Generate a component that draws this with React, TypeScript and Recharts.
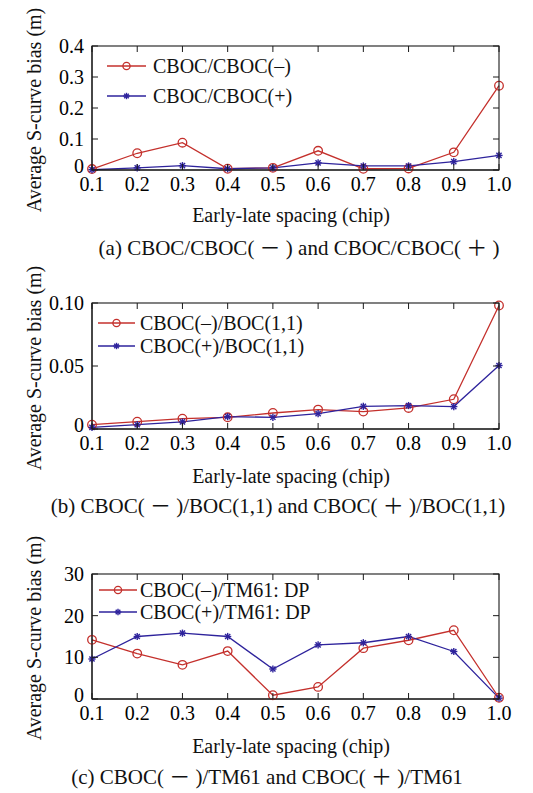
import React from 'react';
import { LineChart, Line, XAxis, YAxis, Legend } from 'recharts';

// Early-late correlator spacing (chip)
const spacing = [0.1, 0.2, 0.3, 0.4, 0.5, 0.6, 0.7, 0.8, 0.9, 1.0];

// (a) CBOC/CBOC(-) and CBOC/CBOC(+)
const cbocMinusA = [0.003, 0.054, 0.088, 0.004, 0.007, 0.062, 0.004, 0.005, 0.057, 0.272];
const cbocPlusA = [0.001, 0.007, 0.014, 0.004, 0.007, 0.023, 0.013, 0.013, 0.027, 0.047];

// (b) CBOC(-)/BOC(1,1) and CBOC(+)/BOC(1,1)
const cbocMinusB = [0.0034, 0.0058, 0.0082, 0.0093, 0.0127, 0.0154, 0.0138, 0.0167, 0.0236, 0.098];
const cbocPlusB = [0.0013, 0.0034, 0.0056, 0.0098, 0.0093, 0.0122, 0.018, 0.0186, 0.0178, 0.0504];

// (c) CBOC(-)/TM61 and CBOC(+)/TM61 (DP)
const cbocMinusC = [14.2, 10.9, 8.2, 11.5, 0.9, 2.9, 12.2, 14.1, 16.5, 0.3];
const cbocPlusC = [9.6, 15.0, 15.8, 15.0, 7.2, 13.0, 13.5, 15.0, 11.4, 0.2];

const ticksA = [0, 0.1, 0.2, 0.3, 0.4];
const ticksB = [0, 0.05, 0.1];
const ticksC = [0, 10, 20, 30];

const legendA = ['CBOC/CBOC(–)', 'CBOC/CBOC(+)'];
const legendB = ['CBOC(–)/BOC(1,1)', 'CBOC(+)/BOC(1,1)'];
const legendC = ['CBOC(–)/TM61: DP', 'CBOC(+)/TM61: DP'];

const captionA = '(a) CBOC/CBOC( － ) and CBOC/CBOC( ＋ )';
const captionB = '(b) CBOC( － )/BOC(1,1) and CBOC( ＋ )/BOC(1,1)';
const captionC = '(c) CBOC( － )/TM61 and CBOC( ＋ )/TM61';

const yTitle = 'Average S-curve bias (m)';
const xTitle = 'Early-late spacing (chip)';

const RED = '#c4302c';
const BLUE = '#2e239c';
const SERIF = "'Liberation Serif', 'Times New Roman', serif";
const CAPTION_FONT = "'Liberation Serif', 'Noto Sans CJK SC', serif";

const WIDTH = 533;
const Y_AXIS_WIDTH = 92;
const X_AXIS_HEIGHT = 30;
const MARGIN_RIGHT = 34;
const X_TICK_GAP = 7;
const TICK_LEN = 6;
const X_DOMAIN: [number, number] = [0.1, 1];

function CircleMark({ cx, cy, r = 4.3 }: any) {
  if (cx == null || cy == null) return null;
  return <circle cx={cx} cy={cy} r={r} fill="none" stroke={RED} strokeWidth={1.3} />;
}

function StarMark({ cx, cy, s = 3.6 }: any) {
  if (cx == null || cy == null) return null;
  const d = s * 0.72;
  return (
    <g stroke={BLUE} strokeWidth={1.4}>
      <line x1={cx - s} y1={cy} x2={cx + s} y2={cy} />
      <line x1={cx} y1={cy - s} x2={cx} y2={cy + s} />
      <line x1={cx - d} y1={cy - d} x2={cx + d} y2={cy + d} />
      <line x1={cx - d} y1={cy + d} x2={cx + d} y2={cy - d} />
    </g>
  );
}

function XTick({ x, y, payload }: any) {
  return (
    <text x={x} y={y} dy="0.71em" textAnchor="middle" fontSize={20} fontFamily={SERIF} fill="#000">
      {Number(payload.value).toFixed(1)}
    </text>
  );
}

// The zero label sits a little above its tick, clear of the x labels
function YTick({ x, y, payload, formatter }: any) {
  const shift = payload.value === 0 ? -4 : 0;
  return (
    <text x={x} y={y + shift} dy="0.35em" textAnchor="end" fontSize={20} fontFamily={SERIF} fill="#000">
      {formatter(payload.value)}
    </text>
  );
}

type Box = { left: number; right: number; top: number; bottom: number };

// Boxed plot frame with inward tick marks on all four sides
function PlotFrame({
  box,
  height,
  yDomain,
  yTicks,
}: {
  box: Box;
  height: number;
  yDomain: [number, number];
  yTicks: number[];
}) {
  const w = box.right - box.left;
  const h = box.bottom - box.top;
  const px = (v: number) => box.left + ((v - X_DOMAIN[0]) / (X_DOMAIN[1] - X_DOMAIN[0])) * w;
  const py = (v: number) => box.bottom - ((v - yDomain[0]) / (yDomain[1] - yDomain[0])) * h;
  return (
    <svg
      width={WIDTH}
      height={height}
      style={{ position: 'absolute', left: 0, top: 0, pointerEvents: 'none' }}
    >
      <rect x={box.left} y={box.top} width={w} height={h} fill="none" stroke="#1a1a1a" strokeWidth={1.1} />
      {spacing.map((v) => (
        <g key={`x${v}`} stroke="#1a1a1a" strokeWidth={1}>
          <line x1={px(v)} y1={box.bottom} x2={px(v)} y2={box.bottom - TICK_LEN} />
          <line x1={px(v)} y1={box.top} x2={px(v)} y2={box.top + TICK_LEN} />
        </g>
      ))}
      {yTicks.map((v) => (
        <g key={`y${v}`} stroke="#1a1a1a" strokeWidth={1}>
          <line x1={box.left} y1={py(v)} x2={box.left + TICK_LEN} y2={py(v)} />
          <line x1={box.right} y1={py(v)} x2={box.right - TICK_LEN} y2={py(v)} />
        </g>
      ))}
    </svg>
  );
}

type LegendLayout = { x0: number; x1: number; tx: number; y0: number; gap: number };

function LegendRows({ labels, lay }: { labels: string[]; lay: LegendLayout }) {
  const mid = (lay.x0 + lay.x1) / 2;
  return (
    <svg width={WIDTH} height={130} style={{ display: 'block' }}>
      {labels.map((label, i) => {
        const y = lay.y0 + i * lay.gap;
        const color = i === 0 ? RED : BLUE;
        return (
          <g key={label}>
            <line x1={lay.x0} y1={y} x2={lay.x1} y2={y} stroke={color} strokeWidth={1.3} />
            {i === 0 ? <CircleMark cx={mid} cy={y} r={3.6} /> : <StarMark cx={mid} cy={y} s={3.2} />}
            <text x={lay.tx} y={y} dy="0.35em" fontSize={20} fontFamily={SERIF} fill="#111">
              {label}
            </text>
          </g>
        );
      })}
    </svg>
  );
}

type PanelProps = {
  top: number;
  height: number;
  marginTop: number;
  marginBottom: number;
  minus: number[];
  plus: number[];
  yDomain: [number, number];
  yTicks: number[];
  yFormat: (v: number) => string;
  labels: string[];
  legend: LegendLayout;
  yTitleY: number;
  xTitleY: number;
  caption: string;
  captionX: number;
  captionY: number;
};

const textDiv = {
  position: 'absolute' as const,
  whiteSpace: 'nowrap' as const,
  fontFamily: SERIF,
  fontSize: 20,
  lineHeight: 1,
  color: '#111',
};

function Panel(p: PanelProps) {
  const data = spacing.map((x, i) => ({ x, minus: p.minus[i], plus: p.plus[i] }));
  const box: Box = {
    left: Y_AXIS_WIDTH,
    right: WIDTH - MARGIN_RIGHT,
    top: p.marginTop,
    bottom: p.height - p.marginBottom - X_AXIS_HEIGHT,
  };
  return (
    <div style={{ position: 'absolute', left: 0, top: p.top, width: WIDTH, height: p.height }}>
      <LineChart
        width={WIDTH}
        height={p.height}
        data={data}
        margin={{ top: p.marginTop, right: MARGIN_RIGHT, bottom: p.marginBottom, left: 0 }}
      >
        <XAxis
          type="number"
          dataKey="x"
          domain={X_DOMAIN}
          ticks={spacing}
          interval={0}
          tickSize={0}
          tickLine={false}
          tickMargin={X_TICK_GAP}
          height={X_AXIS_HEIGHT}
          stroke="#000"
          tick={<XTick />}
        />
        <YAxis
          type="number"
          domain={p.yDomain}
          ticks={p.yTicks}
          interval={0}
          tickLine={false}
          width={Y_AXIS_WIDTH}
          stroke="#000"
          tick={<YTick formatter={p.yFormat} />}
        />
        <Legend
          layout="horizontal"
          align="center"
          verticalAlign="middle"
          wrapperStyle={{ top: 0, left: 0, width: WIDTH, height: 130 }}
          content={() => <LegendRows labels={p.labels} lay={p.legend} />}
        />
        <Line
          dataKey="minus"
          stroke={RED}
          strokeWidth={1.3}
          dot={(d: any) => <CircleMark key={`m${d.index}`} cx={d.cx} cy={d.cy} />}
          isAnimationActive={false}
        />
        <Line
          dataKey="plus"
          stroke={BLUE}
          strokeWidth={1.3}
          dot={(d: any) => <StarMark key={`p${d.index}`} cx={d.cx} cy={d.cy} />}
          isAnimationActive={false}
        />
      </LineChart>
      <PlotFrame box={box} height={p.height} yDomain={p.yDomain} yTicks={p.yTicks} />
      <div style={{ ...textDiv, left: 34, top: p.yTitleY, transform: 'translate(-50%, -50%) rotate(-90deg)' }}>
        {yTitle}
      </div>
      <div style={{ ...textDiv, left: 291, top: p.xTitleY, transform: 'translate(-50%, -50%)' }}>{xTitle}</div>
      <div
        style={{
          ...textDiv,
          left: p.captionX,
          top: p.captionY,
          transform: 'translate(-50%, -50%)',
          fontFamily: CAPTION_FONT,
          fontSize: 21,
        }}
      >
        {p.caption}
      </div>
    </div>
  );
}

const fmt1 = (v: number) => (v === 0 ? '0' : v.toFixed(1));
const fmt2 = (v: number) => (v === 0 ? '0' : v.toFixed(2));
const fmt0 = (v: number) => String(v);

export default function App() {
  return (
    <div style={{ position: 'absolute', left: 0, top: 0, width: WIDTH, height: 793, background: '#fff' }}>
      <Panel
        top={0}
        height={260}
        marginTop={46}
        marginBottom={60}
        minus={cbocMinusA}
        plus={cbocPlusA}
        yDomain={[0, 0.4]}
        yTicks={ticksA}
        yFormat={fmt1}
        labels={legendA}
        legend={{ x0: 107, x1: 146, tx: 153, y0: 66, gap: 30 }}
        yTitleY={110}
        xTitleY={215}
        caption={captionA}
        captionX={299}
        captionY={248}
      />
      <Panel
        top={260}
        height={270}
        marginTop={43}
        marginBottom={71}
        minus={cbocMinusB}
        plus={cbocPlusB}
        yDomain={[0, 0.1]}
        yTicks={ticksB}
        yFormat={fmt2}
        labels={legendB}
        legend={{ x0: 98, x1: 135, tx: 140, y0: 63, gap: 23 }}
        yTitleY={108}
        xTitleY={216}
        caption={captionB}
        captionX={278}
        captionY={246}
      />
      <Panel
        top={530}
        height={263}
        marginTop={44}
        marginBottom={64}
        minus={cbocMinusC}
        plus={cbocPlusC}
        yDomain={[0, 30]}
        yTicks={ticksC}
        yFormat={fmt0}
        labels={legendC}
        legend={{ x0: 99, x1: 137, tx: 140, y0: 60, gap: 22 }}
        yTitleY={108}
        xTitleY={216}
        caption={captionC}
        captionX={267}
        captionY={247}
      />
    </div>
  );
}
